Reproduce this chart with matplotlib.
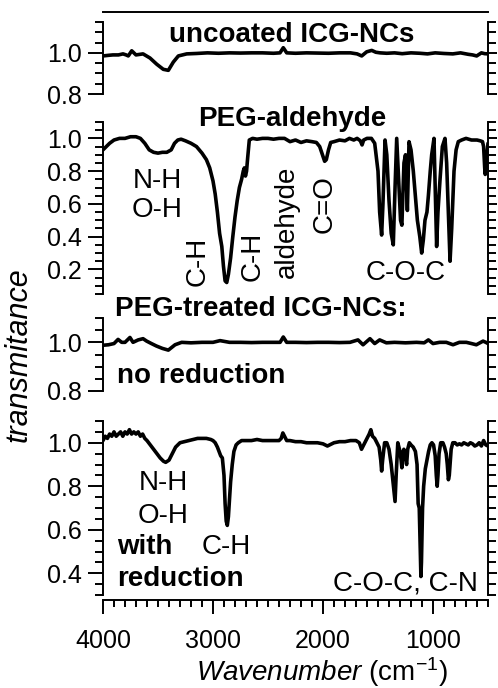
import matplotlib
matplotlib.use("Agg")
import matplotlib.pyplot as plt
from matplotlib.ticker import MultipleLocator, FixedLocator, FormatStrFormatter

plt.rcParams['font.family'] = ['Liberation Sans', 'DejaVu Sans']
plt.rcParams['mathtext.fontset'] = 'custom'
plt.rcParams['mathtext.rm'] = 'Liberation Sans'
plt.rcParams['mathtext.it'] = 'Liberation Sans:italic'

# ---------------- data ----------------
wn_uncoated = [4000, 3950, 3910, 3860, 3818, 3790, 3770, 3739, 3700, 3636, 3573, 3512, 3452, 3406,
               3361, 3315, 3239, 3150, 3050, 2950, 2850, 2750, 2650, 2550, 2450, 2391, 2361, 2330,
               2250, 2150, 2050, 1950, 1850, 1750, 1690, 1648, 1603, 1557, 1520, 1481, 1420, 1350,
               1280, 1200, 1120, 1050, 980, 900, 820, 750, 680, 640, 603, 560, 530, 500]
t_uncoated = [0.985, 0.988, 0.99, 0.99, 0.995, 0.99, 0.985, 1.01, 0.99, 0.995, 0.975, 0.945, 0.92, 0.915,
              0.955, 0.985, 0.995, 0.997, 1.0, 0.998, 1.0, 0.999, 1.0, 1.0, 0.998, 1.0, 1.025, 1.0,
              0.998, 1.0, 0.999, 0.998, 1.0, 1.0, 0.995, 0.985, 1.005, 1.012, 1.003, 1.0, 0.998, 1.0,
              0.996, 1.0, 0.998, 0.995, 1.0, 0.997, 0.995, 1.0, 0.993, 0.99, 0.985, 1.0, 0.996, 0.995]

wn_peg = [4000, 3970, 3940, 3900, 3850, 3800, 3750, 3700, 3660, 3620, 3580, 3540, 3500, 3460, 3420,
          3380, 3350, 3320, 3290, 3250, 3200, 3150, 3100, 3060, 3030, 3000, 2980, 2960, 2940, 2920,
          2905, 2890, 2875, 2860, 2840, 2820, 2800, 2780, 2760, 2740, 2725, 2715, 2705, 2695, 2685,
          2670, 2640, 2600, 2550, 2500, 2450, 2400, 2350, 2300, 2250, 2200, 2150, 2100, 2060, 2030,
          2000, 1985, 1970, 1950, 1930, 1900, 1850, 1800, 1760, 1720, 1690, 1660, 1645, 1630, 1600,
          1560, 1530, 1500, 1485, 1467, 1455, 1436, 1420, 1400, 1380, 1361, 1345, 1330, 1310, 1295,
          1283, 1264, 1250, 1233, 1218, 1200, 1179, 1160, 1142, 1120, 1103, 1088, 1073, 1055, 1042,
          1025, 1012, 991, 980, 967, 955, 936, 915, 891, 876, 860, 845, 830, 809, 790, 770, 740, 700,
          650, 600, 570, 550, 540, 530, 525, 515, 500]
t_peg = [0.93, 0.95, 0.97, 0.99, 1.0, 1.0, 1.01, 1.01, 1.0, 0.97, 0.93, 0.915, 0.91, 0.915, 0.915,
         0.93, 0.97, 0.99, 0.995, 0.985, 0.97, 0.95, 0.91, 0.87, 0.82, 0.74, 0.66, 0.55, 0.42, 0.34,
         0.22, 0.13, 0.12, 0.17, 0.27, 0.40, 0.52, 0.62, 0.70, 0.75, 0.80, 0.82, 0.77, 0.80, 0.88,
         0.99, 1.0, 0.995, 1.0, 1.0, 0.995, 1.0, 1.0, 0.98, 0.99, 0.975, 0.985, 0.98, 0.975, 0.95,
         0.89, 0.86, 0.87, 0.93, 0.975, 0.98, 0.99, 0.985, 1.0, 0.99, 1.0, 0.985, 0.96, 0.99, 1.0,
         1.0, 0.97, 0.80, 0.55, 0.41, 0.60, 0.99, 0.90, 0.62, 0.42, 0.35, 0.70, 1.0, 0.72, 0.50,
         0.47, 0.85, 0.90, 0.56, 0.98, 0.93, 0.80, 0.65, 0.50, 0.40, 0.30, 0.38, 0.50, 0.55, 0.65,
         0.80, 0.90, 1.0, 0.70, 0.34, 0.55, 0.75, 0.95, 1.0, 0.85, 0.55, 0.25, 0.45, 0.80, 0.93,
         0.98, 0.99, 1.0, 0.99, 0.99, 0.985, 0.98, 0.95, 0.82, 0.78, 0.85, 0.97]

wn_noreduc = [4000, 3950, 3900, 3863, 3830, 3800, 3755, 3727, 3680, 3636, 3603, 3560, 3515, 3460,
              3406, 3345, 3285, 3200, 3100, 3000, 2936, 2850, 2750, 2650, 2550, 2450, 2390, 2361,
              2330, 2250, 2150, 2050, 1950, 1850, 1755, 1682, 1636, 1573, 1530, 1485, 1424, 1350,
              1250, 1150, 1080, 1042, 1000, 940, 879, 818, 760, 697, 650, 606, 545, 520, 500]
t_noreduc = [0.988, 0.99, 0.995, 1.012, 1.0, 1.0, 1.02, 1.0, 1.01, 1.015, 1.005, 0.995, 0.985, 0.975,
             0.968, 0.99, 1.0, 0.998, 1.0, 1.0, 1.007, 1.0, 1.0, 0.999, 1.0, 1.0, 1.0, 1.022,
             1.0, 1.0, 0.999, 1.0, 1.0, 0.999, 1.0, 1.01, 0.99, 1.015, 0.995, 1.01, 0.998, 1.0,
             0.998, 1.0, 0.998, 1.01, 0.995, 1.0, 1.0, 0.99, 1.0, 1.0, 0.995, 0.99, 1.005, 1.0, 0.995]

wn_reduc = [4000, 3980, 3960, 3940, 3920, 3900, 3880, 3860, 3840, 3820, 3800, 3780, 3760, 3740, 3720,
            3700, 3680, 3660, 3640, 3620, 3600, 3570, 3540, 3510, 3480, 3450, 3430, 3400, 3370, 3340,
            3300, 3260, 3220, 3180, 3140, 3100, 3060, 3020, 3000, 2980, 2960, 2945, 2930, 2915, 2900,
            2890, 2880, 2870, 2860, 2850, 2840, 2825, 2810, 2790, 2770, 2740, 2700, 2650, 2600, 2550,
            2500, 2450, 2400, 2380, 2365, 2350, 2330, 2300, 2250, 2200, 2150, 2100, 2050, 2000, 1960,
            1940, 1900, 1850, 1800, 1750, 1700, 1670, 1650, 1630, 1600, 1580, 1565, 1550, 1530, 1510,
            1490, 1475, 1467, 1458, 1440, 1420, 1400, 1380, 1360, 1345, 1335, 1320, 1300, 1290, 1283,
            1275, 1265, 1250, 1240, 1230, 1215, 1200, 1180, 1160, 1145, 1135, 1125, 1115, 1110, 1105,
            1095, 1085, 1070, 1055, 1040, 1025, 1010, 995, 980, 970, 962, 955, 945, 930, 910, 895, 880,
            870, 860, 852, 845, 835, 820, 800, 780, 760, 740, 720, 700, 680, 660, 640, 620, 600, 580,
            560, 540, 520, 500]
t_reduc = [1.01, 1.03, 1.02, 1.04, 1.03, 1.05, 1.03, 1.04, 1.05, 1.03, 1.05, 1.04, 1.06, 1.04, 1.05,
           1.04, 1.05, 1.03, 1.04, 1.02, 1.01, 0.99, 0.97, 0.95, 0.93, 0.915, 0.91, 0.92, 0.95, 0.98,
           1.0, 1.005, 1.01, 1.015, 1.02, 1.02, 1.02, 1.015, 1.01, 1.0, 0.98, 0.96, 0.94, 0.93, 0.85,
           0.72, 0.64, 0.62, 0.66, 0.74, 0.82, 0.90, 0.96, 0.99, 1.0, 1.01, 1.01, 1.01, 1.015, 1.01,
           1.01, 1.01, 1.01, 1.02, 1.045, 1.03, 1.01, 1.01, 1.005, 1.005, 1.0, 1.0, 1.0, 0.995, 0.985,
           0.99, 1.0, 1.005, 1.005, 1.01, 1.01, 1.0, 0.97, 0.99, 1.02, 1.04, 1.06, 1.03, 1.02, 1.0,
           0.98, 0.92, 0.87, 0.92, 1.0, 1.0, 0.97, 0.90, 0.80, 0.73, 0.85, 1.0, 0.96, 0.92, 0.885,
           0.95, 0.97, 0.93, 0.90, 0.97, 1.0, 0.99, 0.98, 0.96, 0.90, 0.72, 0.70, 0.50, 0.385, 0.45,
           0.70, 0.80, 0.88, 0.92, 0.96, 0.99, 1.0, 0.99, 0.94, 0.85, 0.80, 0.85, 0.95, 1.0, 1.0, 0.98, 0.95,
           0.90, 0.83, 0.85, 0.90, 0.97, 1.0, 1.0, 0.99, 0.995, 0.99, 1.0, 0.995, 0.99, 1.0, 0.995, 0.985, 0.99, 1.0,
           0.985, 1.01, 0.99, 0.985]

x_major = [4000, 3000, 2000, 1000]
xlim = (4000, 500)

# ---------------- layout ----------------
W, H = 498, 688
fig = plt.figure(figsize=(W / 100, H / 100), dpi=100)
LEFT, RIGHT = 103, 488


def box(top, bottom):
    return [LEFT / W, 1 - bottom / H, (RIGHT - LEFT) / W, (bottom - top) / H]


panels = [
    dict(px=(22, 94), ylim=(0.8, 1.15), major=[0.8, 1.0], wn=wn_uncoated, t=t_uncoated),
    dict(px=(122, 294), ylim=(0.05, 1.10), major=[0.2, 0.4, 0.6, 0.8, 1.0], wn=wn_peg, t=t_peg),
    dict(px=(318, 391), ylim=(0.8, 1.10), major=[0.8, 1.0], wn=wn_noreduc, t=t_noreduc),
    dict(px=(421, 595), ylim=(0.3, 1.10), major=[0.4, 0.6, 0.8, 1.0], wn=wn_reduc, t=t_reduc),
]

LW_SP = 1.4
TICKFS = 18
axes = []
for i, p in enumerate(panels):
    ax = fig.add_axes(box(*p['px']))
    ax.plot(p['wn'], p['t'], color='black', lw=2.6, solid_joinstyle='round', solid_capstyle='round')
    ax.set_xlim(*xlim)
    ax.set_ylim(*p['ylim'])
    ax.patch.set_alpha(0)
    for s in ['top', 'bottom', 'right']:
        ax.spines[s].set_visible(False)
    ax.spines['left'].set_linewidth(LW_SP)
    ax.yaxis.set_major_locator(FixedLocator(p['major']))
    ax.yaxis.set_minor_locator(MultipleLocator(0.05))
    ax.yaxis.set_major_formatter(FormatStrFormatter('%.1f'))
    ax.tick_params(axis='y', which='major', direction='out', length=10.5, width=LW_SP,
                   labelsize=TICKFS, pad=5, right=False)
    ax.tick_params(axis='y', which='minor', direction='out', length=5.5, width=LW_SP, right=False)
    sec = ax.secondary_yaxis('right')
    sec.spines['right'].set_linewidth(LW_SP)
    sec.yaxis.set_major_locator(FixedLocator(p['major']))
    sec.yaxis.set_minor_locator(MultipleLocator(0.05))
    sec.tick_params(axis='y', which='major', direction='out', length=6.5, width=LW_SP, labelright=False)
    sec.tick_params(axis='y', which='minor', direction='out', length=5.5, width=LW_SP, labelright=False)
    if i < 3:
        ax.tick_params(axis='x', which='both', bottom=False, labelbottom=False)
    axes.append(ax)

# top line over first panel
ax1 = axes[0]
ax1.spines['top'].set_visible(True)
ax1.spines['top'].set_linewidth(LW_SP)
ax1.spines['top'].set_position(('outward', 7.5))

# bottom wavenumber axis
ax4 = axes[3]
ax4.spines['bottom'].set_visible(True)
ax4.spines['bottom'].set_linewidth(LW_SP)
ax4.spines['bottom'].set_position(('outward', 3.6))
ax4.xaxis.set_major_locator(FixedLocator(x_major))
ax4.xaxis.set_minor_locator(MultipleLocator(100))
ax4.tick_params(axis='x', which='major', direction='out', length=10, width=LW_SP,
                labelsize=TICKFS, pad=11)
ax4.tick_params(axis='x', which='minor', direction='out', length=5, width=LW_SP)

# ---------------- texts ----------------
TFS = 20   # bold titles
AFS = 20   # annotations
ax1.text(2282, 1.085, 'uncoated ICG-NCs', fontsize=TFS, fontweight='bold', ha='center', va='center')

ax2 = axes[1]
ax2.text(2282, 1.118, 'PEG-aldehyde', fontsize=TFS, fontweight='bold', ha='center', va='center')
ax2.text(3509, 0.74, 'N-H', fontsize=AFS, ha='center', va='center')
ax2.text(3509, 0.56, 'O-H', fontsize=AFS, ha='center', va='center')
ax2.text(3136, 0.25, 'C-H', fontsize=AFS, ha='center', va='center', rotation=90)
ax2.text(2636, 0.28, 'C-H', fontsize=AFS, ha='center', va='center', rotation=90)
ax2.text(2327, 0.49, 'aldehyde', fontsize=AFS, ha='center', va='center', rotation=90)
ax2.text(1982, 0.60, 'C=O', fontsize=AFS, ha='center', va='center', rotation=90)
ax2.text(1245, 0.18, 'C-O-C', fontsize=AFS, ha='center', va='center')

ax3 = axes[2]
ax3.text(3891, 1.135, 'PEG-treated ICG-NCs:', fontsize=TFS, fontweight='bold', ha='left', va='center')
ax3.text(3873, 0.86, 'no reduction', fontsize=TFS, fontweight='bold', ha='left', va='center')

ax4.text(3455, 0.815, 'N-H', fontsize=AFS, ha='center', va='center')
ax4.text(3455, 0.665, 'O-H', fontsize=AFS, ha='center', va='center')
ax4.text(3873, 0.52, 'with', fontsize=TFS, fontweight='bold', ha='left', va='center')
ax4.text(3873, 0.373, 'reduction', fontsize=TFS, fontweight='bold', ha='left', va='center')
ax4.text(2882, 0.52, 'C-H', fontsize=AFS, ha='center', va='center')
ax4.text(591, 0.352, 'C-O-C, C-N', fontsize=AFS, ha='right', va='center')

fig.text(19 / W, 1 - 355 / H, 'transmitance', fontsize=22, style='italic', rotation=90,
         ha='center', va='center')
fig.text(322 / W, 1 - 672 / H, r'$\mathit{Wavenumber}$ (cm$^{-1}$)', fontsize=20,
         ha='center', va='center')

fig.savefig('out.png', dpi=100)
